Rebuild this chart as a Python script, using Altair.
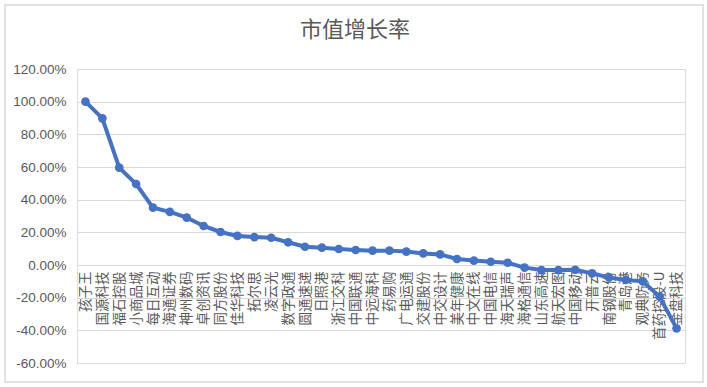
import altair as alt
import pandas as pd

names = ["孩子王", "国源科技", "福石控股", "小商品城", "每日互动", "海通证券", "神州数码",
         "卓创资讯", "同方股份", "佳华科技", "拓尔思", "凌云光", "数字政通", "圆通速递",
         "日照港", "浙江交科", "中国联通", "中远海科", "药易购", "广电运通", "交建股份",
         "中交设计", "美年健康", "中文在线", "中国电信", "海天瑞声", "海格通信", "山东高速",
         "航天宏图", "中国移动", "开普云", "南钢股份", "青岛港", "观典防务", "首药控股-U",
         "金盘科技"]
growth = [1.000, 0.898, 0.596, 0.496, 0.351, 0.325, 0.290, 0.239, 0.202, 0.178, 0.171,
          0.167, 0.139, 0.112, 0.106, 0.098, 0.092, 0.088, 0.088, 0.082, 0.071, 0.065,
          0.037, 0.027, 0.020, 0.014, -0.016, -0.031, -0.031, -0.029, -0.051, -0.076,
          -0.092, -0.100, -0.194, -0.388]
y_ticks = [-0.6, -0.4, -0.2, 0.0, 0.2, 0.4, 0.6, 0.8, 1.0, 1.2]

df = pd.DataFrame({"name": names, "growth": growth, "order": list(range(len(names)))})

W, H = 608, 294
GRAY = "#595959"
BLUE = "#4472C4"

base = alt.Chart(df).encode(
    x=alt.X("name:N", sort=names, title=None,
            scale=alt.Scale(type="point", padding=0.5),
            axis=alt.Axis(orient="bottom", offset=-H / 3, labelAngle=-90,
                          domain=False, ticks=False, grid=False,
                          labelFont="Noto Sans CJK SC", labelFontSize=13.5,
                          labelColor=GRAY, labelPadding=6, labelOverlap=False)),
    y=alt.Y("growth:Q", title=None,
            scale=alt.Scale(domain=[-0.6, 1.2], nice=False, zero=False),
            axis=alt.Axis(values=y_ticks, domain=False, ticks=False,
                          gridColor="#d9d9d9", gridWidth=1,
                          labelExpr="replace(format(datum.value, '.2%'), '\u2212', '-')",
                          labelFont="Liberation Sans", labelFontSize=13.5,
                          labelColor=GRAY, labelPadding=11)),
)

line = base.mark_line(color=BLUE, strokeWidth=4)
pts = base.mark_point(color=BLUE, filled=True, size=75, opacity=1)

border = alt.Chart(df).mark_rect(filled=False, stroke="#d9d9d9", strokeWidth=1.5).encode(
    x=alt.value(-72), x2=alt.value(W + 18), y=alt.value(-64), y2=alt.value(H + 19)
).transform_filter("datum.order == 0")

chart = alt.layer(border, line, pts).properties(
    width=W, height=H,
    title=alt.TitleParams("市值增长率", font="Noto Sans CJK SC", fontSize=22,
                          fontWeight="normal", color=GRAY, anchor="middle",
                          dx=-26, offset=26, dy=64),
    autosize=alt.AutoSizeParams(type="none"),
    padding={"left": 77, "top": 69, "right": 22, "bottom": 24},
).configure_view(stroke=None).configure(background="white")

chart.save("out.html", embed_options={"renderer": "svg", "actions": False})
